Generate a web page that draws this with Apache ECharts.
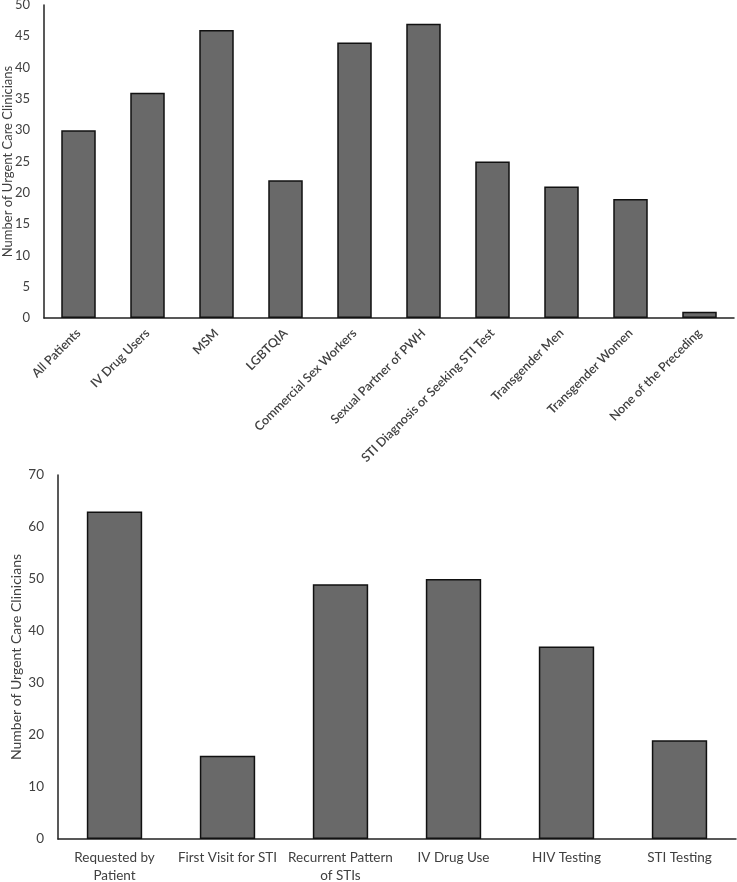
<!DOCTYPE html>
<html><head><meta charset="utf-8">
<script src="https://cdn.jsdelivr.net/npm/echarts@6/dist/echarts.min.js"></script>
<style>html,body{margin:0;padding:0;background:#fff}#c{width:737px;height:882px}</style>
</head><body><div id="c"></div>
<script>
const topCategories = ["All Patients","IV Drug Users","MSM","LGBTQIA","Commercial Sex Workers","Sexual Partner of PWH","STI Diagnosis or Seeking STI Test","Transgender Men","Transgender Women","None of the Preceding"];
const topValues = [30,36,46,22,44,47,25,21,19,1];
const bottomCategories = ["Requested by\nPatient","First Visit for STI","Recurrent Pattern\nof STIs","IV Drug Use","HIV Testing","STI Testing"];
const bottomValues = [63,16,49,50,37,19];
const yName = "Number of Urgent Care Clinicians";

const font = "Lato, 'Open Sans', sans-serif";
const axisLine = {show:true, lineStyle:{color:'#222', width:1.5}};
const barStyle = {color:'#696969', borderColor:'#111', borderWidth:1.5};

const chart = echarts.init(document.getElementById('c'));
chart.setOption({
  animation:false,
  textStyle:{fontFamily:font},
  grid:[
    {left:44, top:5, right:3, bottom:564, containLabel:false, outerBoundsMode:'none'},
    {left:58, top:475, right:1, bottom:43, containLabel:false, outerBoundsMode:'none'}
  ],
  xAxis:[
    {type:'category', gridIndex:0, data:topCategories, axisLine:axisLine, axisTick:{show:false},
     axisLabel:{interval:0, rotate:45, fontSize:12.5, fontWeight:600, color:'#404040', fontFamily:font, margin:13}},
    {type:'category', gridIndex:1, data:bottomCategories, axisLine:axisLine, axisTick:{show:false},
     axisLabel:{interval:0, fontSize:13.5, color:'#404040', fontFamily:font, margin:10, lineHeight:18}}
  ],
  yAxis:[
    {type:'value', gridIndex:0, min:0, max:50, interval:5, axisLine:axisLine, axisTick:{show:false}, splitLine:{show:false},
     axisLabel:{fontSize:13, color:'#404040', margin:14},
     name:yName, nameLocation:'middle', nameGap:30, nameMoveOverlap:false, nameTextStyle:{fontSize:13, color:'#404040'}},
    {type:'value', gridIndex:1, min:0, max:70, interval:10, axisLine:axisLine, axisTick:{show:false}, splitLine:{show:false},
     axisLabel:{fontSize:13.5, color:'#404040', margin:14},
     name:yName, nameLocation:'middle', nameGap:35, nameMoveOverlap:false, nameTextStyle:{fontSize:14, color:'#404040'}}
  ],
  series:[
    {type:'bar', xAxisIndex:0, yAxisIndex:0, data:topValues, barWidth:'50%', itemStyle:barStyle},
    {type:'bar', xAxisIndex:1, yAxisIndex:1, data:bottomValues, barWidth:'49%', itemStyle:barStyle}
  ]
});
</script></body></html>
